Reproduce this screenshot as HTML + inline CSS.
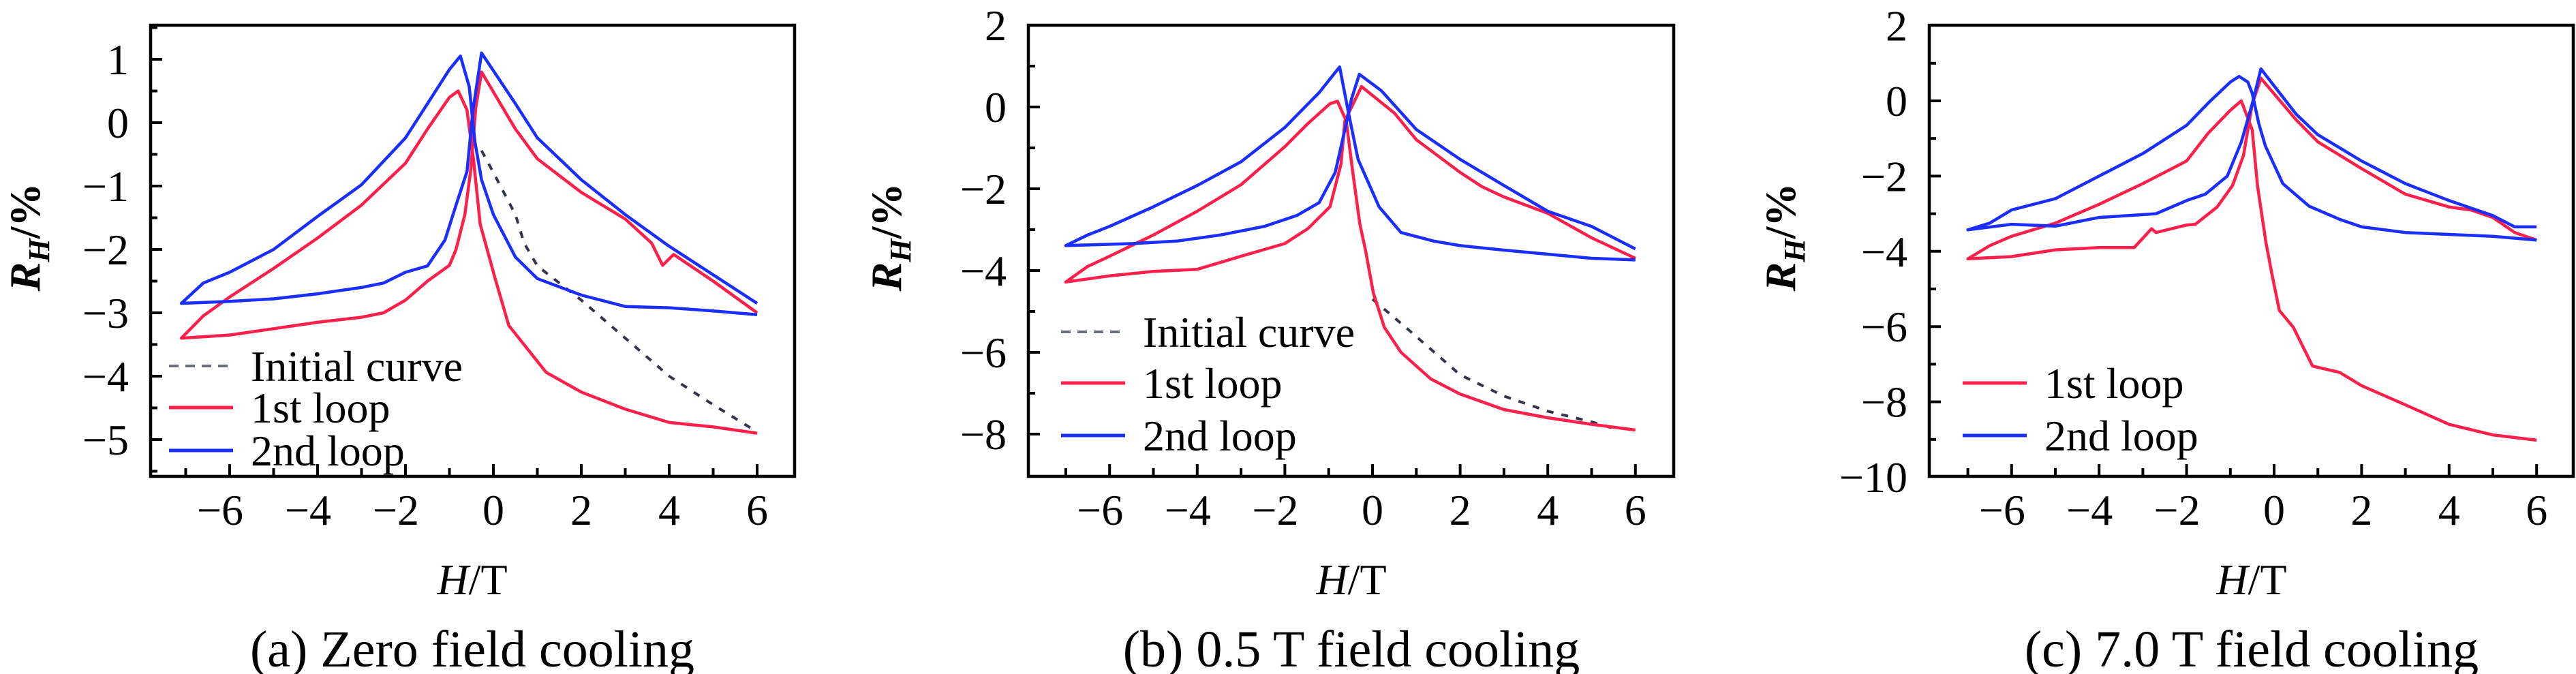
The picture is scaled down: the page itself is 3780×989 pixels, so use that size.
<!DOCTYPE html>
<html><head><meta charset="utf-8"><style>
html,body{margin:0;padding:0;background:#fff;}
svg{display:block;font-family:"Liberation Serif",serif;}
</style></head><body>
<svg id="fig" width="3780" height="989" viewBox="0 0 3780 989" xmlns="http://www.w3.org/2000/svg"></svg>
<script>
// ---- Panel (a) Zero field cooling data ----
const aRedH=[6,5,4.1,3.85,3.6,3,2,1,0.5,-0.27,-0.4,-0.52,-0.65,-0.85,-1,-1.5,-2,-2.5,-3,-4,-5,-6,-7.1,-6.6,-6,-5,-4,-3,-2,-1.5,-1,-0.8,-0.6,-0.45,-0.3,0.04,0.35,1.2,2,3,4,5,6];
const aRedR=[-3.0,-2.5,-2.08,-2.25,-1.9,-1.52,-1.1,-0.57,-0.1,0.8,0.24,-0.77,-1.45,-2.0,-2.25,-2.5,-2.8,-3.0,-3.07,-3.15,-3.25,-3.35,-3.4,-3.05,-2.75,-2.3,-1.82,-1.3,-0.64,-0.1,0.4,0.5,0.2,-0.6,-1.6,-2.46,-3.2,-3.94,-4.25,-4.52,-4.73,-4.8,-4.9];
const aBlueH=[6,5,4,3,2,1,0.5,-0.27,-0.47,-0.6,-0.85,-1.1,-1.5,-2,-2.5,-3,-4,-5,-6,-7.1,-6.6,-6,-5,-4,-3,-2,-1.5,-1,-0.75,-0.55,-0.42,-0.27,0,0.5,1,2,3,4,5,6];
const aBlueR=[-2.85,-2.4,-1.95,-1.45,-0.9,-0.24,0.3,1.1,0.17,-0.77,-1.3,-1.85,-2.26,-2.36,-2.53,-2.6,-2.7,-2.78,-2.82,-2.85,-2.53,-2.36,-2.0,-1.48,-0.98,-0.24,0.3,0.84,1.05,0.57,-0.3,-0.9,-1.45,-2.12,-2.46,-2.72,-2.9,-2.92,-2.97,-3.03];
const aInitH=[-0.27,0.04,0.5,0.7,1,2,3,4,5,6];
const aInitR=[-0.44,-0.84,-1.45,-1.9,-2.26,-2.8,-3.4,-4.0,-4.45,-4.88];
// ---- Panel (b) 0.5 T field cooling data ----
const bRedH=[6,5,4,3,2.5,2,1,0.5,-0.25,-0.63,-0.72,-0.97,-1.47,-2,-3,-4,-5,-6,-7,-6.5,-6,-5,-4,-3,-2,-1.47,-0.97,-0.8,-0.6,-0.45,-0.29,-0.16,0.02,0.27,0.65,1.33,2,3,4,5,6];
const bRedR=[-3.7,-3.2,-2.6,-2.2,-1.95,-1.6,-0.8,-0.15,0.5,-0.34,-1.4,-2.44,-2.97,-3.34,-3.65,-3.97,-4.02,-4.13,-4.28,-3.9,-3.65,-3.13,-2.55,-1.9,-0.97,-0.4,0.08,0.14,-0.34,-1.6,-2.86,-3.5,-4.55,-5.39,-6.0,-6.65,-7.02,-7.4,-7.6,-7.76,-7.9];
const bBlueH=[6,5,4,3,2,1,0.2,-0.3,-0.48,-0.63,-0.85,-1.22,-1.72,-2.47,-3.47,-4.47,-5.47,-7,-6.5,-6,-5,-4,-3,-2,-1.22,-0.75,-0.55,-0.33,0.15,0.65,1.4,2,3,4,5,6];
const bBlueR=[-3.47,-2.92,-2.55,-1.92,-1.28,-0.55,0.4,0.8,0.19,-0.55,-1.6,-2.34,-2.65,-2.92,-3.13,-3.28,-3.34,-3.39,-3.13,-2.92,-2.44,-1.92,-1.34,-0.5,0.35,0.98,-0.13,-1.28,-2.44,-3.07,-3.28,-3.39,-3.5,-3.6,-3.7,-3.74];
const bInitH=[0,0.77,2,3,4,5,5.5];
const bInitR=[-4.7,-5.4,-6.55,-7.07,-7.44,-7.7,-7.86];
// ---- Panel (c) 7.0 T field cooling data ----
const cRedH=[6,5.5,5,4.5,4,3,2,1,0.5,-0.3,-0.5,-0.7,-0.95,-1.3,-1.8,-2,-2.7,-2.8,-3.2,-4,-5,-6,-7,-6.5,-6,-5,-4,-3,-2,-1.5,-1,-0.75,-0.5,-0.38,-0.19,-0.06,0.12,0.44,0.88,1.5,2,3,4,5,6];
const cRedR=[-3.7,-3.5,-3.1,-2.9,-2.82,-2.48,-1.8,-1.09,-0.5,0.6,-0.08,-1.45,-2.25,-2.82,-3.28,-3.3,-3.5,-3.4,-3.9,-3.9,-3.96,-4.14,-4.2,-3.85,-3.6,-3.25,-2.75,-2.2,-1.6,-0.85,-0.25,0.0,-0.77,-2.25,-3.74,-4.54,-5.57,-6.02,-7.05,-7.22,-7.57,-8.08,-8.6,-8.88,-9.02];
const cBlueH=[6,5.5,5,4,3,2,1,0.5,-0.3,-0.5,-0.75,-1.07,-1.57,-2,-2.7,-4,-5,-6,-7,-6.5,-6,-5,-4,-3,-2,-1.5,-1,-0.8,-0.6,-0.5,-0.35,-0.2,0.2,0.8,1.5,2,3,4,5,5.5,6];
const cBlueR=[-3.35,-3.35,-3.05,-2.65,-2.2,-1.6,-0.9,-0.35,0.85,-0.08,-1.1,-2.0,-2.48,-2.65,-3.0,-3.1,-3.33,-3.28,-3.43,-3.25,-2.9,-2.6,-2.0,-1.4,-0.65,-0.05,0.5,0.65,0.5,0.2,-0.6,-1.2,-2.2,-2.8,-3.15,-3.35,-3.5,-3.55,-3.6,-3.65,-3.7];
// tick labels
const xTickVals=[-6,-4,-2,0,2,4,6];
const aYTicks=[1,0,-1,-2,-3,-4,-5];
const bYTicks=[2,0,-2,-4,-6,-8];
const cYTicks=[2,0,-2,-4,-6,-8,-10];

const NS="http://www.w3.org/2000/svg";
const svg=document.getElementById('fig');
const RED="#ff1f4b", BLUE="#1a2eff", GRAY="#33354a";
function mk(tag,attrs,parent){const e=document.createElementNS(NS,tag);for(const k in attrs)e.setAttribute(k,attrs[k]);(parent||svg).appendChild(e);return e;}
function fmt(v){return v<0?"\u2212"+Math.abs(v):String(v);}

function panel(cfg){
  const g=mk('g',{});
  
  
  const L=cfg.L,R=cfg.R,T=37,B=699;
  const sx=h=>cfg.x0+h*cfg.ux;
  const sy=v=>cfg.y0-v*cfg.uy;
  // box
  const box=mk('rect',{x:L,y:T,width:R-L,height:B-T,fill:'none',stroke:'#000','stroke-width':4.5},g);
  
  
  // x ticks
  for(let h=-7;h<=6;h++){
    const major=h%2===0;
    const t=mk('line',{x1:sx(h),x2:sx(h),y1:B,y2:B-(major?18:12),stroke:'#000','stroke-width':4},g);
    
    
  }
  xTickVals.forEach(v=>{
    const t=mk('text',{x:sx(v)-(v<0?14:0),y:770,'font-size':64,'text-anchor':'middle'},g);
    t.textContent=fmt(v);
    
    
  });
  // y ticks
  for(let v=cfg.ymin;v<=cfg.ymax+1e-9;v+=cfg.minor){
    const y=sy(v); if(y<T+3||y>B-3) continue;
    const major=Math.abs(Math.round(v/cfg.major)*cfg.major-v)<1e-6;
    const t=mk('line',{x1:L,x2:L+(major?17:10),y1:y,y2:y,stroke:'#000','stroke-width':4},g);
    
    
  }
  cfg.yTicks.forEach(v=>{
    const t=mk('text',{x:L-32,y:sy(v)+22,'font-size':64,'text-anchor':'end'},g);
    t.textContent=fmt(v);
    
    
  });
  // y title
  const yt=mk('text',{transform:`translate(${cfg.ytx},348) rotate(-90)`,'font-size':64,'text-anchor':'middle','font-weight':'bold'},g);
  yt.innerHTML='<tspan font-style="italic">R</tspan><tspan font-style="italic" font-size="44" dy="14">H</tspan><tspan dy="-14">/%</tspan>';
  
  
  const xt=mk('text',{x:cfg.cx,y:872,'font-size':64,'text-anchor':'middle'},g);
  xt.innerHTML='<tspan font-style="italic">H</tspan>/T';
  
  
  const cap=mk('text',{x:cfg.cx,y:978,'font-size':76,'text-anchor':'middle'},g);
  cap.textContent=cfg.caption;
  
  
  // series
  cfg.series.forEach(s=>{
    const d=s.H.map((h,i)=>(i?'L':'M')+sx(h).toFixed(1)+','+sy(s.R[i]).toFixed(1)).join(' ');
    const p=mk('path',{d:d,fill:'none',stroke:s.color,'stroke-width':s.dash?4:4.5,'stroke-linejoin':'round','stroke-dasharray':s.dash?'10 12':'none'},g);
    
    
  });
  // legend
  cfg.legend.forEach(l=>{
    const ln=mk('line',{x1:cfg.lx1,x2:cfg.lx1+94,y1:l.y,y2:l.y,stroke:l.color,'stroke-width':l.dash?4:5,'stroke-dasharray':l.dash?'14 10':'none'},g);
    
    
    const tx=mk('text',{x:cfg.lx1+120,y:l.y+22,'font-size':64},g);
    tx.textContent=l.label;
    
    
  });
}

panel({name:'panel-a-zero-field',L:221,R:1166,x0:724,ux:64.5,y0:180,uy:93,ymin:-5.5,ymax:1.5,minor:0.5,major:1,yTicks:aYTicks,ytx:58,cx:693,caption:'(a) Zero field cooling',
  series:[{H:aInitH,R:aInitR,color:GRAY,dash:true,name:'initial-curve-line'},{H:aRedH,R:aRedR,color:RED,name:'first-loop-line'},{H:aBlueH,R:aBlueR,color:BLUE,name:'second-loop-line'}],
  lx1:248,legend:[{y:537,color:'#6b6e80',dash:true,label:'Initial curve'},{y:598,color:RED,label:'1st loop'},{y:661,color:BLUE,label:'2nd loop'}]});
panel({name:'panel-b-0.5T-field',L:1509,R:2456,x0:2014,ux:64.3,y0:157,uy:60,ymin:-9,ymax:2,minor:1,major:2,yTicks:bYTicks,ytx:1322,cx:1983,caption:'(b) 0.5 T field cooling',
  series:[{H:bInitH,R:bInitR,color:GRAY,dash:true,name:'initial-curve-line'},{H:bRedH,R:bRedR,color:RED,name:'first-loop-line'},{H:bBlueH,R:bBlueR,color:BLUE,name:'second-loop-line'}],
  lx1:1557,legend:[{y:487,color:'#6b6e80',dash:true,label:'Initial curve'},{y:562,color:RED,label:'1st loop'},{y:639,color:BLUE,label:'2nd loop'}]});
panel({name:'panel-c-7T-field',L:2831,R:3776,x0:3337,ux:64.2,y0:148,uy:55.2,ymin:-10,ymax:2,minor:1,major:2,yTicks:cYTicks,ytx:2634,cx:3304,caption:'(c) 7.0 T field cooling',
  series:[{H:cRedH,R:cRedR,color:RED,name:'first-loop-line'},{H:cBlueH,R:cBlueR,color:BLUE,name:'second-loop-line'}],
  lx1:2880,legend:[{y:562,color:RED,label:'1st loop'},{y:639,color:BLUE,label:'2nd loop'}]});
</script>
</body></html>
